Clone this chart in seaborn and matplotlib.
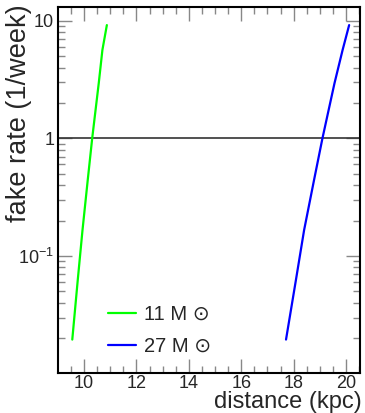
import numpy as np
import pandas as pd
import matplotlib
matplotlib.use("Agg")
import matplotlib.pyplot as plt
import seaborn as sns
from matplotlib.ticker import MultipleLocator, LogLocator, FixedLocator, FixedFormatter, NullFormatter

# data
dist_11 = [9.55, 9.76, 9.94, 10.14, 10.31, 10.56, 10.70, 10.87]
rate_11 = [0.0195, 0.063, 0.166, 0.443, 1.0, 2.94, 5.64, 9.18]
dist_27 = [17.71, 18.09, 18.40, 18.78, 19.10, 19.56, 19.87, 20.12]
rate_27 = [0.0195, 0.063, 0.166, 0.443, 1.0, 2.94, 5.64, 9.18]
labels = ["11 M \u2299", "27 M \u2299"]
colors = ["#00ff00", "#0000ff"]
xticks = [10, 12, 14, 16, 18, 20]
yticks = [0.1, 1, 10]
yticklabels = ["$10^{-1}$", "1", "10"]

df = pd.concat([
    pd.DataFrame({"distance": dist_11, "rate": rate_11, "model": labels[0]}),
    pd.DataFrame({"distance": dist_27, "rate": rate_27, "model": labels[1]}),
])

sns.set_style("ticks")
plt.rcParams['font.family'] = ['Liberation Sans', 'DejaVu Sans']
plt.rcParams['mathtext.fontset'] = 'custom'
plt.rcParams['mathtext.rm'] = 'Liberation Sans'

fig = plt.figure(figsize=(3.65, 4.13), dpi=100)
ax = fig.add_axes([0.160, 0.0976, 0.826, 0.8847])

sns.lineplot(data=df, x="distance", y="rate", hue="model", palette=colors,
             linewidth=1.6, ax=ax, sort=False, estimator=None)
ax.set_yscale("log")
ax.set_xlim(9.02, 20.53)
ax.set_ylim(0.0102, 13.0)
ax.axhline(1.0, color="#333333", linewidth=1.2, zorder=1)

ax.xaxis.set_major_locator(FixedLocator(xticks))
ax.xaxis.set_minor_locator(MultipleLocator(0.5))
ax.yaxis.set_major_locator(FixedLocator(yticks))
ax.yaxis.set_major_formatter(FixedFormatter(yticklabels))
ax.yaxis.set_minor_locator(LogLocator(base=10, subs=np.arange(2, 10)))
ax.yaxis.set_minor_formatter(NullFormatter())

ax.tick_params(which="both", direction="in", top=True, right=True, color="#888888",
               labelsize=13)
ax.tick_params(which="major", length=10, width=1)
ax.tick_params(which="minor", length=5, width=1)
ax.tick_params(axis="x", pad=1.5)
ax.tick_params(axis="y", pad=3)
for s in ax.spines.values():
    s.set_linewidth(1.5)
    s.set_color("black")

ax.set_xlabel("distance (kpc)", fontsize=17, loc="right", va="baseline")
ax.xaxis.set_label_coords(362 / 365, 1 - 408 / 413, transform=fig.transFigure)
ax.set_ylabel("fake rate (1/week)", fontsize=19.5, loc="top", va="center")
ax.yaxis.set_label_coords(19 / 365, 1 - 4 / 413, transform=fig.transFigure)

leg = ax.legend(loc="upper left", bbox_to_anchor=(0.105, 0.235), frameon=False,
                fontsize=14.5, handlelength=1.4, handletextpad=0.4, labelspacing=0.65)
leg.set_title(None)

fig.savefig("out.png", dpi=100)
